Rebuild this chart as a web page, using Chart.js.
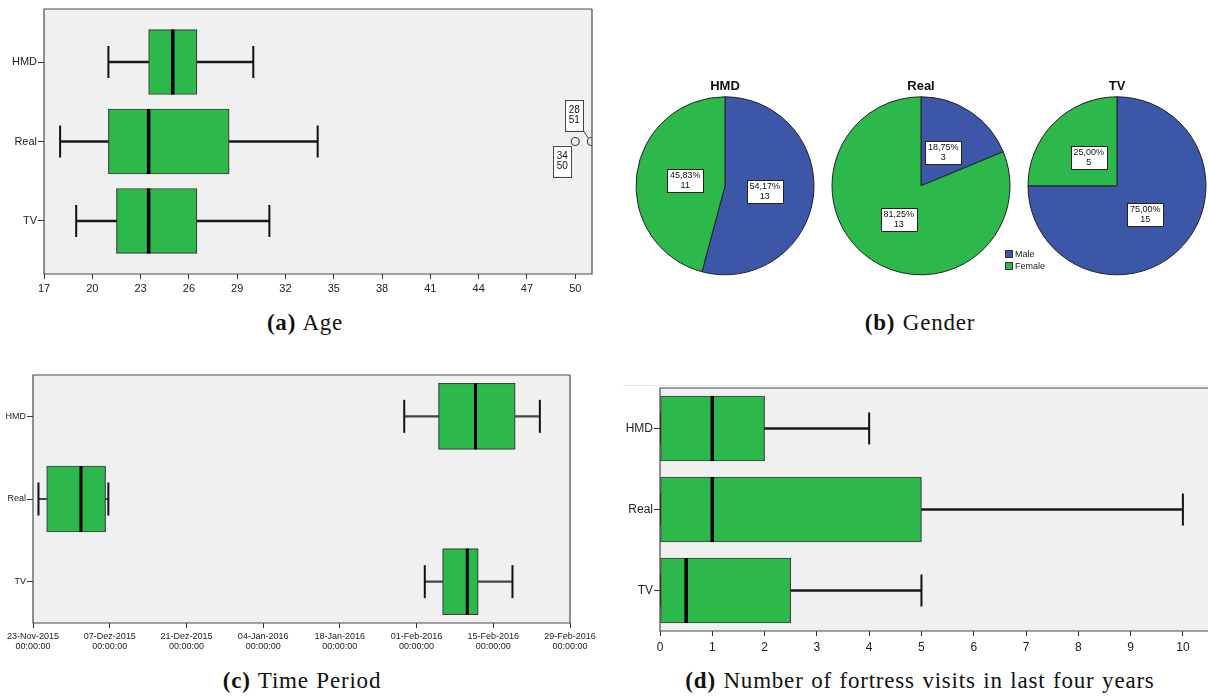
<!DOCTYPE html>
<html>
<head>
<meta charset="utf-8">
<script src="https://cdn.jsdelivr.net/npm/chart.js"></script>
<style>
  body { margin: 0; width: 1208px; height: 697px; position: relative; overflow: hidden; background: #fff; font-family: "Liberation Sans", Arial, sans-serif; }
  canvas { position: absolute; }
  .caption { position: absolute; font-family: "Liberation Serif", "Times New Roman", serif; font-size: 23px; letter-spacing: 0.8px; word-spacing: 1px; line-height: 26px; text-align: center; color: #111; white-space: nowrap; }
  .legend { position: absolute; left: 1005px; top: 248px; font-size: 9px; line-height: 12px; color: #222; }
  .legend span { display: inline-block; width: 8px; height: 8px; border: 1px solid #333; margin-right: 2px; vertical-align: -1px; box-sizing: border-box; }
  .topline { position: absolute; left: 623px; top: 385px; width: 585px; height: 1px; background: #dde7f0; }
</style>
</head>
<body>
<canvas id="ageChart" width="610" height="305" style="left:0;top:0"></canvas>
<canvas id="pieHMD" width="182" height="200" style="left:634px;top:77px"></canvas>
<canvas id="pieReal" width="182" height="200" style="left:830px;top:77px"></canvas>
<canvas id="pieTV" width="182" height="200" style="left:1026px;top:77px"></canvas>
<canvas id="timeChart" width="600" height="295" style="left:0;top:365px"></canvas>
<div class="topline"></div>
<canvas id="visitChart" width="608" height="290" style="left:600px;top:378px"></canvas>
<div class="legend" id="genderLegend"></div>
<div class="caption" style="left:0;top:310px;width:610px"><b>(a)</b> Age</div>
<div class="caption" style="left:620px;top:310px;width:600px"><b>(b)</b> Gender</div>
<div class="caption" style="left:0;top:668px;width:604px"><b>(c)</b> Time Period</div>
<div class="caption" style="left:620px;top:668px;width:600px"><b>(d)</b> Number of fortress visits in last four years</div>
<script>
const groups = ['HMD', 'Real', 'TV'];

// (a) Age
const ageTicks = [17, 20, 23, 26, 29, 32, 35, 38, 41, 44, 47, 50];
const ageMin = [21, 18, 19];
const ageQ1 = [23.5, 21, 21.5];
const ageMedian = [25, 23.5, 23.5];
const ageQ3 = [26.5, 28.5, 26.5];
const ageMax = [30, 34, 31];
const ageOutlierGroup = [1, 1];
const ageOutlierValue = [50, 51];
const ageOutlierCase = [34, 28];

// (b) Gender
const genderLabels = ['Male', 'Female'];
const genderHMD = [13, 11];
const genderReal = [3, 13];
const genderTV = [15, 5];

// (c) Time period
const timeTickDates = ['2015-11-23', '2015-12-07', '2015-12-21', '2016-01-04', '2016-01-18', '2016-02-01', '2016-02-15', '2016-02-29'];
const timeTickLabels = ['23-Nov-2015', '07-Dez-2015', '21-Dez-2015', '04-Jan-2016', '18-Jan-2016', '01-Feb-2016', '15-Feb-2016', '29-Feb-2016'];
const timeMin = ['2016-01-29T18:00', '2015-11-24T00:00', '2016-02-02T12:00'];
const timeQ1 = ['2016-02-05T00:00', '2015-11-25T12:00', '2016-02-05T18:00'];
const timeMedian = ['2016-02-11T18:00', '2015-12-01T18:00', '2016-02-10T06:00'];
const timeQ3 = ['2016-02-19T00:00', '2015-12-06T06:00', '2016-02-12T06:00'];
const timeMax = ['2016-02-23T12:00', '2015-12-06T18:00', '2016-02-18T12:00'];

// (d) Fortress visits
const visitTicks = [0, 1, 2, 3, 4, 5, 6, 7, 8, 9, 10];
const visitMin = [0, 0, 0];
const visitQ1 = [0, 0, 0];
const visitMedian = [1, 1, 0.5];
const visitQ3 = [2, 5, 2.5];
const visitMax = [4, 10, 5];

const GREEN = '#2db84b';
const BLUE = '#3c56a8';
const FONT = '"Liberation Sans", Arial, sans-serif';
Chart.defaults.font.family = FONT;
Chart.defaults.color = '#222';

function ms(s) {
	return Date.parse(s.length === 10 ? s + 'T00:00:00Z' : s + ':00Z');
}

// grey plot background and frame
const framePlugin = {
	id: 'frame',
	beforeDraw(chart) {
		const a = chart.chartArea;
		chart.ctx.save();
		chart.ctx.fillStyle = '#f0f0f0';
		chart.ctx.fillRect(a.left, a.top, a.width, a.height);
		chart.ctx.restore();
	},
	afterDatasetsDraw(chart, args, opts) {
		const a = chart.chartArea;
		const ctx = chart.ctx;
		ctx.save();
		ctx.strokeStyle = '#4a4a4a';
		ctx.lineWidth = 1.2;
		ctx.beginPath();
		ctx.moveTo(a.right, a.top);
		ctx.lineTo(a.left, a.top);
		ctx.lineTo(a.left, a.bottom);
		ctx.lineTo(a.right, a.bottom);
		if (opts.right !== false) ctx.lineTo(a.right, a.top);
		ctx.stroke();
		ctx.restore();
	}
};

function boxDatasets(c) {
	const idx = groups.map((g, i) => i);
	return [
		{
			type: 'bar', indexAxis: 'y', grouped: false, order: 4,
			barThickness: c.whisker, backgroundColor: c.whiskerColor,
			data: idx.map(i => ({ x: [c.min[i], c.max[i]], y: i }))
		},
		{
			type: 'bar', indexAxis: 'y', grouped: false, order: 3,
			barThickness: c.box, backgroundColor: GREEN,
			borderColor: '#3f3f3f', borderWidth: 1.2, borderSkipped: false,
			data: idx.map(i => ({ x: [c.q1[i], c.q3[i]], y: i }))
		},
		{
			type: 'scatter', order: 2,
			pointStyle: 'line', pointRotation: 90, pointRadius: c.box / 2,
			pointBorderWidth: c.medianWidth, pointBorderColor: '#000',
			data: idx.map(i => ({ x: c.median[i], y: i }))
		},
		{
			type: 'scatter', order: 1,
			pointStyle: 'line', pointRotation: 90, pointRadius: c.cap / 2,
			pointBorderWidth: 2, pointBorderColor: '#111',
			data: idx.flatMap(i => [{ x: c.min[i], y: i }, { x: c.max[i], y: i }])
		}
	].concat(c.extra || []);
}

function makeBoxChart(id, c) {
	return new Chart(document.getElementById(id), {
		type: 'bar',
		data: { datasets: boxDatasets(c) },
		options: {
			responsive: false,
			animation: false,
			layout: { padding: c.padding, autoPadding: false },
			plugins: {
				legend: { display: false },
				tooltip: { enabled: false },
				frame: { right: c.rightEdge }
			},
			scales: {
				x: {
					type: 'linear', min: c.xMin, max: c.xMax, offset: false,
					afterBuildTicks: s => { s.ticks = c.ticks.map(v => ({ value: v })); },
					afterFit: s => { s.height = c.xHeight; },
					ticks: {
						autoSkip: false, maxRotation: 0, padding: c.xPad,
						font: { size: c.fontX, lineHeight: 1.15 }, color: '#222',
						callback: c.xLabel
					},
					grid: { offset: false, drawOnChartArea: false, tickLength: 5, color: '#333' },
					border: { display: false }
				},
				y: {
					type: 'linear', reverse: true, min: -c.margin, max: groups.length - 1 + c.margin, offset: false,
					afterBuildTicks: s => { s.ticks = groups.map((g, i) => ({ value: i })); },
					afterFit: s => { s.width = c.yWidth; },
					ticks: {
						autoSkip: false, padding: 1, font: { size: c.fontY }, color: '#222',
						callback: v => groups[v]
					},
					grid: { offset: false, drawOnChartArea: false, tickLength: 6, color: '#333' },
					border: { display: false }
				}
			}
		},
		plugins: [framePlugin].concat(c.plugins || [])
	});
}

// case labels next to the age outliers
const outlierLabelPlugin = {
	id: 'outlierLabels',
	afterDatasetsDraw(chart) {
		const ctx = chart.ctx;
		const xs = chart.scales.x, ys = chart.scales.y;
		ctx.save();
		ctx.font = '10px ' + FONT;
		ctx.textAlign = 'center';
		ctx.textBaseline = 'middle';
		ageOutlierValue.forEach((v, i) => {
			const px = xs.getPixelForValue(v), py = ys.getPixelForValue(ageOutlierGroup[i]);
			const w = 18, h = 31;
			let bx, by;
			if (i % 2 === 0) {
				bx = px - 4 - w; by = py + 4;
			} else {
				bx = px - 8 - w; by = py - 11 - h;
				ctx.strokeStyle = '#444';
				ctx.lineWidth = 1;
				ctx.beginPath();
				ctx.moveTo(bx + w, by + h);
				ctx.lineTo(px - 3, py - 3);
				ctx.stroke();
			}
			ctx.fillStyle = '#fff';
			ctx.fillRect(bx, by, w, h);
			ctx.strokeStyle = '#444';
			ctx.lineWidth = 1;
			ctx.strokeRect(Math.round(bx) + 0.5, Math.round(by) + 0.5, w, h);
			ctx.fillStyle = '#111';
			ctx.fillText(String(ageOutlierCase[i]), bx + w / 2, by + h / 2 - 5);
			ctx.fillText(String(v), bx + w / 2, by + h / 2 + 5);
		});
		ctx.restore();
	}
};

makeBoxChart('ageChart', {
	min: ageMin, q1: ageQ1, median: ageMedian, q3: ageQ3, max: ageMax,
	xMin: 17, xMax: 51.04, ticks: ageTicks, margin: 0.667,
	box: 65, cap: 32, whisker: 2, whiskerColor: '#1a1a1a', medianWidth: 3.5,
	padding: { top: 9, right: 18, left: 0, bottom: 0 },
	yWidth: 44, xHeight: 31, xPad: 4, fontX: 11, fontY: 11,
	xLabel: v => String(v),
	extra: [{
		type: 'scatter', order: 0, clip: 0,
		pointStyle: 'circle', pointRadius: 4, pointBorderWidth: 1.2,
		pointBorderColor: '#444', pointBackgroundColor: '#f0f0f0',
		data: ageOutlierValue.map((v, i) => ({ x: v, y: ageOutlierGroup[i] }))
	}],
	plugins: [outlierLabelPlugin]
});

makeBoxChart('timeChart', {
	min: timeMin.map(ms), q1: timeQ1.map(ms), median: timeMedian.map(ms), q3: timeQ3.map(ms), max: timeMax.map(ms),
	xMin: ms(timeTickDates[0]), xMax: ms(timeTickDates[timeTickDates.length - 1]),
	ticks: timeTickDates.map(ms), margin: 0.5,
	box: 66, cap: 33, whisker: 1.5, whiskerColor: '#444', medianWidth: 3,
	padding: { top: 10, right: 30, left: 0, bottom: 0 },
	yWidth: 33, xHeight: 37, xPad: 3, fontX: 9, fontY: 9,
	xLabel: (v, i) => [timeTickLabels[i], '00:00:00']
});

makeBoxChart('visitChart', {
	min: visitMin, q1: visitQ1, median: visitMedian, q3: visitQ3, max: visitMax,
	xMin: 0, xMax: 10.48, ticks: visitTicks, margin: 0.5,
	box: 65, cap: 32, whisker: 2, whiskerColor: '#1a1a1a', medianWidth: 3.5,
	padding: { top: 10, right: 0, left: 0, bottom: 0 },
	yWidth: 60, xHeight: 37, xPad: 5, fontX: 12, fontY: 12,
	xLabel: v => String(v),
	rightEdge: false
});

// percentage / count boxes on the pie slices
const sliceLabelPlugin = {
	id: 'sliceLabels',
	afterDatasetsDraw(chart) {
		const ctx = chart.ctx;
		const values = chart.data.datasets[0].data;
		const total = values.reduce((s, v) => s + v, 0);
		ctx.save();
		ctx.font = '9px ' + FONT;
		ctx.textAlign = 'center';
		ctx.textBaseline = 'middle';
		chart.getDatasetMeta(0).data.forEach((arc, i) => {
			const p = arc.getProps(['x', 'y', 'startAngle', 'endAngle', 'outerRadius'], true);
			const mid = (p.startAngle + p.endAngle) / 2;
			const cx = p.x + Math.cos(mid) * p.outerRadius * 0.45;
			const cy = p.y + Math.sin(mid) * p.outerRadius * 0.45;
			const pct = (values[i] / total * 100).toFixed(2).replace('.', ',') + '%';
			const w = Math.round(ctx.measureText(pct).width + 5), h = 23;
			const bx = Math.round(cx - w / 2), by = Math.round(cy - h / 2);
			ctx.fillStyle = '#fff';
			ctx.fillRect(bx, by, w, h);
			ctx.strokeStyle = '#222';
			ctx.lineWidth = 1;
			ctx.strokeRect(bx + 0.5, by + 0.5, w, h);
			ctx.fillStyle = '#111';
			ctx.fillText(pct, cx, cy - 5);
			ctx.fillText(String(values[i]), cx, cy + 5);
		});
		ctx.restore();
	}
};

function makePie(id, title, values) {
	return new Chart(document.getElementById(id), {
		type: 'pie',
		data: {
			labels: genderLabels,
			datasets: [{
				data: values,
				backgroundColor: [BLUE, GREEN],
				borderColor: '#222',
				borderWidth: 1
			}]
		},
		options: {
			responsive: false,
			animation: false,
			radius: 89,
			plugins: {
				legend: { display: false },
				tooltip: { enabled: false },
				title: {
					display: true, text: title, color: '#111',
					font: { size: 13, weight: 'bold', lineHeight: 1.2 },
					padding: { top: 2, bottom: 0 }
				}
			}
		},
		plugins: [sliceLabelPlugin]
	});
}

makePie('pieHMD', 'HMD', genderHMD);
makePie('pieReal', 'Real', genderReal);
makePie('pieTV', 'TV', genderTV);

document.getElementById('genderLegend').innerHTML = genderLabels.map((g, i) =>
	'<div><span style="background:' + [BLUE, GREEN][i] + '"></span>' + g + '</div>').join('');
</script>
</body>
</html>
